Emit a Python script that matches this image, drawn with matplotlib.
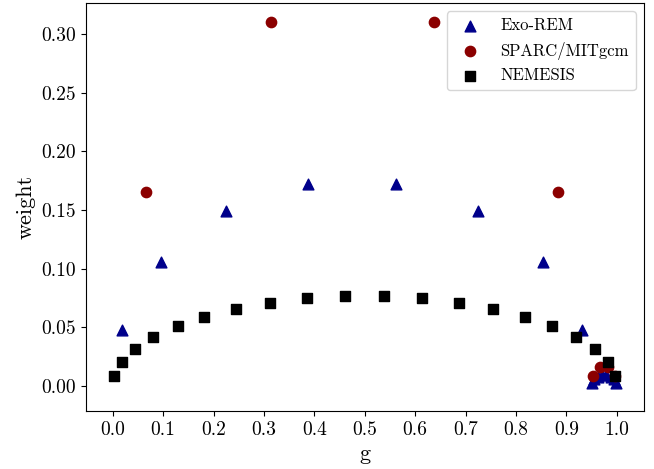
import matplotlib
matplotlib.use("Agg")
import matplotlib.pyplot as plt
import numpy as np

# Exo-REM: 16 g-points
exorem_g = [0.0189, 0.0966, 0.2254, 0.3879, 0.5621, 0.7246, 0.8534, 0.9311,
            0.9510, 0.9551, 0.9619, 0.9704, 0.9796, 0.9881, 0.9949, 0.9990]
exorem_w = [0.0481, 0.1056, 0.1490, 0.1723, 0.1723, 0.1490, 0.1056, 0.0481,
            0.0025, 0.0056, 0.0078, 0.0091, 0.0091, 0.0078, 0.0056, 0.0025]

# SPARC/MITgcm: 8 g-points
sparc_g = [0.0660, 0.3135, 0.6365, 0.8840, 0.9535, 0.9665, 0.9835, 0.9965]
sparc_w = [0.1652, 0.3098, 0.3098, 0.1652, 0.0087, 0.0163, 0.0163, 0.0087]

# NEMESIS: 20 g-points
nemesis_g = [0.0034, 0.0180, 0.0439, 0.0804, 0.1292, 0.1820, 0.2446, 0.3130,
             0.3861, 0.4617, 0.5383, 0.6139, 0.6870, 0.7554, 0.8180, 0.8708,
             0.9196, 0.9561, 0.9820, 0.9966]
nemesis_w = [0.0088, 0.0203, 0.0313, 0.0416, 0.0510, 0.0591, 0.0658, 0.0711,
             0.0746, 0.0764, 0.0764, 0.0746, 0.0711, 0.0658, 0.0591, 0.0510,
             0.0416, 0.0313, 0.0203, 0.0088]

plt.rcParams["font.family"] = "serif"
plt.rcParams["font.serif"] = ["cmr10"]
plt.rcParams["mathtext.fontset"] = "cm"
plt.rcParams["axes.formatter.use_mathtext"] = True

fig = plt.figure(figsize=(6.54, 4.69), dpi=100)
ax = fig.add_axes([0.1315, 0.1237, 0.8532, 0.8699])

ax.scatter(exorem_g, exorem_w, marker="^", s=60, color="#00008b", label="Exo-REM")
ax.scatter(sparc_g, sparc_w, marker="o", s=55, color="#8b0000", label="SPARC/MITgcm")
ax.scatter(nemesis_g, nemesis_w, marker="s", s=60, color="black", label="NEMESIS")

ax.set_xlim(-0.053, 1.054)
ax.set_ylim(-0.0213, 0.3264)
ax.set_xticks(np.arange(0, 1.01, 0.1))
ax.set_xticklabels([f"{v:.1f}" for v in np.arange(0, 1.01, 0.1)])
ax.set_yticks(np.arange(0, 0.31, 0.05))
ax.set_yticklabels([f"{v:.2f}" for v in np.arange(0, 0.31, 0.05)])
ax.tick_params(labelsize=14)

ax.set_xlabel("g", fontsize=16)
ax.set_ylabel("weight", fontsize=16)
ax.legend(loc="upper right", fontsize=12)

fig.savefig("out.png", dpi=100)
